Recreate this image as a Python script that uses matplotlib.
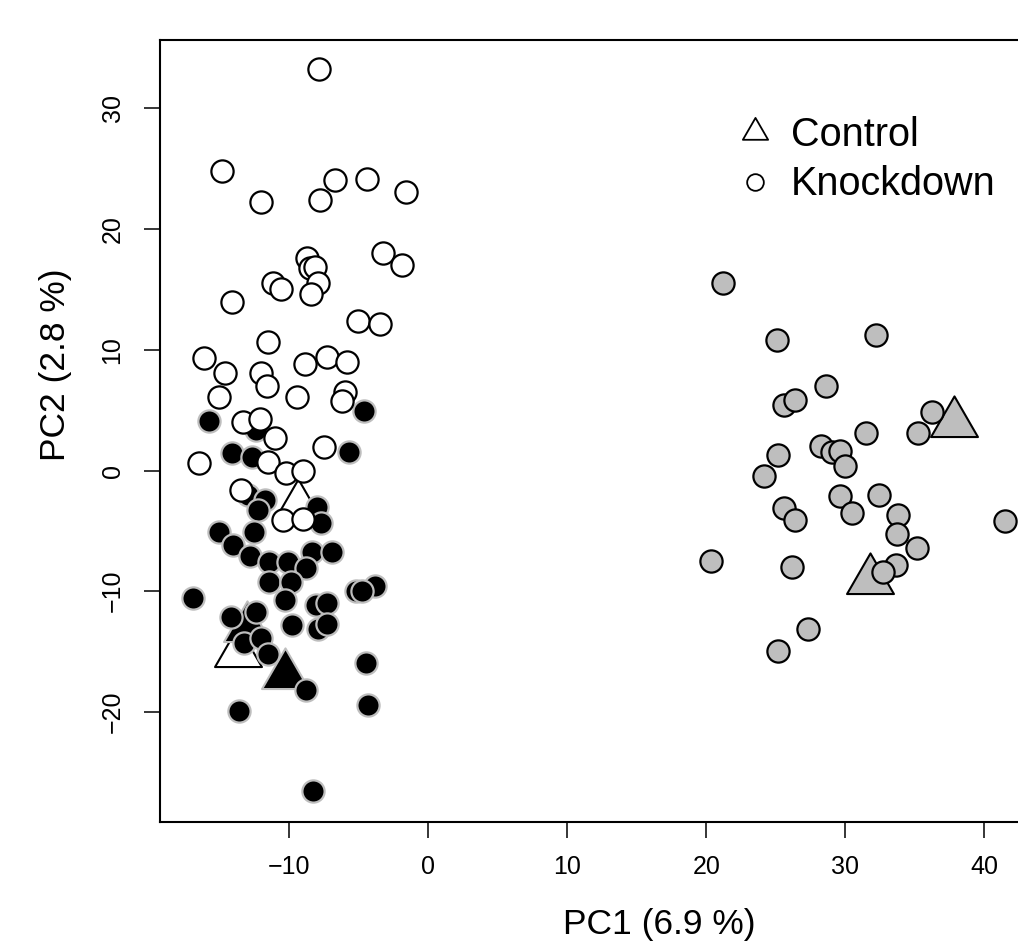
import numpy as np
import matplotlib.pyplot as plt
from matplotlib.lines import Line2D
from matplotlib.path import Path

plt.rcParams['font.family'] = ['Liberation Sans', 'DejaVu Sans']

# knockdown samples, white cluster
white_x = [-7.90, -14.81, -12.07, -6.73, -4.40, -7.81, -1.64, -8.76, -8.53, -8.17,
           -7.93, -8.47, -11.17, -10.63, -14.09, -3.29, -1.93, -5.09, -3.49, -11.53,
           -16.13, -14.60, -8.88, -7.32, -5.83, -12.00, -11.64, -9.44, -6.01, -6.20,
           -15.05, -13.35, -12.12, -11.04, -7.50, -16.51, -11.53, -10.25, -9.01, -13.49,
           -10.45, -9.01]
white_y = [33.24, 24.84, 22.22, 24.04, 24.18, 22.44, 23.05, 17.58, 16.75, 16.88,
           15.51, 14.62, 15.56, 15.01, 13.94, 18.04, 17.03, 12.41, 12.14, 10.69,
           9.35, 8.12, 8.82, 9.38, 8.99, 8.05, 7.03, 6.06, 6.53, 5.80,
           6.06, 3.98, 4.24, 2.69, 1.97, 0.60, 0.73, -0.18, -0.02, -1.62,
           -4.10, -4.04]

# knockdown samples, black cluster
black_x = [-4.64, -15.79, -12.36, -14.09, -12.70, -5.70, -12.96, -11.76, -12.24, -8.04,
           -7.71, -15.07, -12.52, -14.06, -12.84, -11.47, -10.09, -8.37, -6.93, -8.78,
           -11.44, -9.89, -3.81, -5.22, -4.75, -16.96, -10.32, -8.09, -7.32, -14.21,
           -12.36, -9.80, -7.93, -7.32, -13.25, -12.06, -11.56, -4.50, -8.83, -13.61,
           -4.33, -8.33]
black_y = [4.97, 4.13, 3.36, 1.42, 1.09, 1.56, -2.03, -2.44, -3.27, -3.02,
           -4.35, -5.07, -5.07, -6.13, -7.11, -7.56, -7.56, -6.73, -6.73, -8.04,
           -9.21, -9.25, -9.53, -10.00, -10.00, -10.59, -10.73, -11.14, -10.94, -12.14,
           -11.75, -12.80, -13.13, -12.69, -14.29, -13.90, -15.20, -15.92, -18.19, -19.90,
           -19.43, -26.53]

# knockdown samples, gray cluster
gray_x = [21.22, 25.07, 32.17, 28.61, 25.60, 26.40, 36.26, 35.25, 31.45, 28.24,
          29.04, 29.60, 29.96, 25.14, 24.11, 29.64, 30.48, 32.43, 25.55, 26.40,
          33.78, 33.68, 35.13, 41.48, 20.31, 26.13, 33.61, 32.70, 27.33, 25.12]
gray_y = [15.56, 10.79, 11.26, 6.97, 5.47, 5.86, 4.83, 3.12, 3.09, 2.06,
          1.51, 1.59, 0.40, 1.28, -0.43, -2.15, -3.48, -2.01, -3.12, -4.12,
          -3.70, -5.23, -6.39, -4.18, -7.50, -7.99, -7.86, -8.38, -13.10, -14.92]

# control samples
ctrl_x = [-9.39, -13.68, -13.06, -10.32, 37.81, 31.76]
ctrl_y = [-2.94, -15.08, -13.05, -16.94, 3.94, -9.07]
ctrl_group = ['white', 'white', 'black', 'black', 'gray', 'gray']

fill = {'white': 'white', 'black': 'black', 'gray': '#BEBEBE'}
edge = {'white': 'black', 'black': '#BEBEBE', 'gray': 'black'}

# equilateral triangle like R's pch 24
tri = Path([(0, 1), (-0.866, -0.5), (0.866, -0.5), (0, 0)], closed=True)

fig = plt.figure(figsize=(10.18, 9.46), dpi=100)
# plot region runs past the right edge of the image (cropped original)
ax = fig.add_axes([160 / 1018, 124 / 946, 998 / 1018, 782 / 946])

for g, cx, cy in zip(ctrl_group, ctrl_x, ctrl_y):
    ax.scatter(cx, cy, marker=tri, s=39 ** 2, c=fill[g], edgecolors=edge[g],
               linewidths=1.5, zorder=2)

ax.scatter(black_x, black_y, s=16 ** 2, c=fill['black'], edgecolors=edge['black'],
           linewidths=1.6, zorder=3)
ax.scatter(white_x, white_y, s=16 ** 2, c=fill['white'], edgecolors=edge['white'],
           linewidths=1.6, zorder=3)
ax.scatter(gray_x, gray_y, s=16 ** 2, c=fill['gray'], edgecolors=edge['gray'],
           linewidths=1.6, zorder=3)

ax.set_xlim(-19.3, 52.48)
ax.set_ylim(-29.12, 35.67)
ax.set_xticks([-10, 0, 10, 20, 30, 40])
ax.set_yticks([-20, -10, 0, 10, 20, 30])
ax.set_xticklabels(['\u221210', '0', '10', '20', '30', '40'])
ax.set_yticklabels(['\u221220', '\u221210', '0', '10', '20', '30'])
ax.tick_params(axis='both', direction='out', length=11.5, width=1.1, labelsize=18)
ax.tick_params(axis='x', pad=12)
ax.tick_params(axis='y', pad=14, labelrotation=90)
for lbl in ax.get_yticklabels():
    lbl.set_va('center')
for sp in ax.spines.values():
    sp.set_linewidth(1.5)

ax.set_xlabel('PC1 (6.9 %)', fontsize=25.5, labelpad=21)
ax.set_ylabel('PC2 (2.8 %)', fontsize=25.5)
ax.yaxis.set_label_coords(-0.088, 0.5844)

handles = [
    Line2D([], [], marker=tri, ls='none', mfc='white', mec='black', ms=21, mew=1.3),
    Line2D([], [], marker='o', ls='none', mfc='white', mec='black', ms=12, mew=1.3),
]
fig.legend(handles, ['Control', 'Knockdown'], loc='upper left',
           bbox_to_anchor=(735 / 1018, 1 - 116 / 946), frameon=False, fontsize=28.5,
           handlelength=1.0, handletextpad=0.41, labelspacing=0.29,
           borderpad=0, borderaxespad=0)

fig.savefig('out.png', dpi=100)
